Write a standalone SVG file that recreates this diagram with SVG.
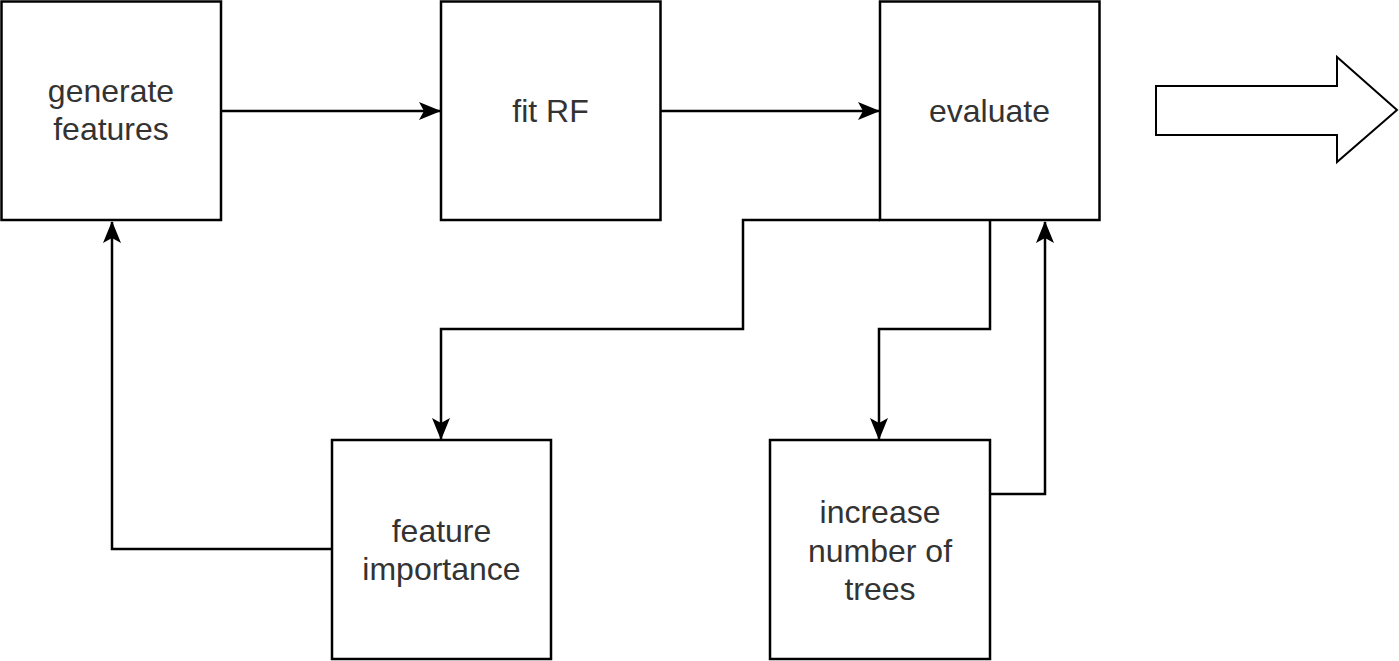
<svg xmlns="http://www.w3.org/2000/svg" width="1399" height="661" viewBox="0 0 1399 661">
<defs>
<style>
.box{fill:#fff;stroke:#000;stroke-width:2.5}
.lbl{font-family:"Liberation Sans",Arial,Helvetica,sans-serif;font-size:32px;fill:#333;text-anchor:middle}
.edge{fill:none;stroke:#000;stroke-width:2.5}
</style>
<marker id="ah" markerUnits="userSpaceOnUse" viewBox="0 0 22 18" refX="21" refY="9" markerWidth="22" markerHeight="18" orient="auto">
<path d="M0,0 L22,9 L0,18 L5,9 Z" fill="#000"/>
</marker>
</defs>
<rect width="1399" height="661" fill="#fff"/>
<g id="connectors">
<path class="edge" d="M221,111 L440,111" marker-end="url(#ah)"/>
<path class="edge" d="M660,111 L879,111" marker-end="url(#ah)"/>
<path class="edge" d="M880,220 L743,220 L743,329 L441,329 L441,439" marker-end="url(#ah)"/>
<path class="edge" d="M990,220 L990,329 L879,329 L879,439" marker-end="url(#ah)"/>
<path class="edge" d="M990,494 L1045,494 L1045,222" marker-end="url(#ah)"/>
<path class="edge" d="M332,549 L112,549 L112,222" marker-end="url(#ah)"/>
</g>
<g id="generate-features">
<rect class="box" x="1.5" y="1.5" width="219.5" height="218.5"/>
<text class="lbl" x="111" y="102">generate</text>
<text class="lbl" x="111" y="140">features</text>
</g>
<g id="fit-rf">
<rect class="box" x="441" y="1.5" width="219.5" height="218.5"/>
<text class="lbl" x="550.5" y="122">fit RF</text>
</g>
<g id="evaluate">
<rect class="box" x="880" y="1.5" width="219.5" height="218.5"/>
<text class="lbl" x="989.5" y="122">evaluate</text>
</g>
<g id="feature-importance">
<rect class="box" x="332" y="440" width="219" height="219"/>
<text class="lbl" x="441.5" y="542">feature</text>
<text class="lbl" x="441.5" y="580">importance</text>
</g>
<g id="increase-trees">
<rect class="box" x="770" y="440" width="220" height="219"/>
<text class="lbl" x="880" y="523">increase</text>
<text class="lbl" x="880" y="562">number of</text>
<text class="lbl" x="880" y="600">trees</text>
</g>
<g id="big-arrow">
<path d="M1156,86 L1337,86 L1337,57 L1397,110 L1337,162 L1337,135 L1156,135 Z" fill="#fff" stroke="#000" stroke-width="2"/>
</g>
</svg>
